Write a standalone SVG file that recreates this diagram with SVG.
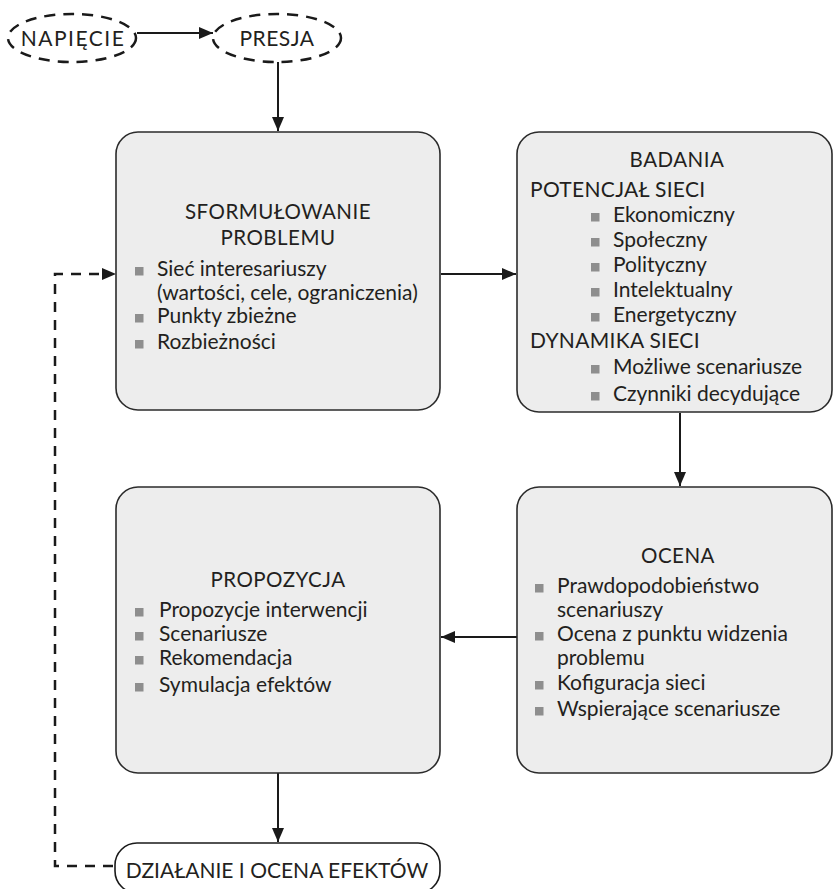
<svg xmlns="http://www.w3.org/2000/svg" width="833" height="889" viewBox="0 0 833 889">
<defs>
<style>
.box{fill:#ededed;stroke:#2b2b2b;stroke-width:1.6}
.t{font-family:Lato,"Open Sans","Liberation Sans",sans-serif;font-size:21px;fill:#231f20}
.h{font-family:Lato,"Open Sans","Liberation Sans",sans-serif;font-size:20.5px;fill:#231f20;text-anchor:middle;letter-spacing:0.5px}
.b{fill:#8e8e8e}
.ln{stroke:#1a1a1a;stroke-width:2;fill:none}
.dl{stroke:#1a1a1a;stroke-width:2.5;fill:none;stroke-dasharray:10 8}
.de{stroke:#1a1a1a;stroke-width:2.5;fill:#fff;stroke-dasharray:11 8}
</style>
<marker id="ah" viewBox="0 0 14 12" refX="14" refY="6" markerWidth="14" markerHeight="12" markerUnits="userSpaceOnUse" orient="auto">
<path d="M0,0 L14,6 L0,12 Z" fill="#1a1a1a"/>
</marker>
</defs>
<rect width="833" height="889" fill="#fff"/>

<g id="connectors">
<line class="ln" x1="137" y1="33" x2="213" y2="33" marker-end="url(#ah)"/>
<line class="ln" x1="278" y1="62" x2="278" y2="131" marker-end="url(#ah)"/>
<line class="ln" x1="441" y1="274" x2="516" y2="274" marker-end="url(#ah)"/>
<line class="ln" x1="680" y1="413" x2="680" y2="486" marker-end="url(#ah)"/>
<line class="ln" x1="517" y1="637" x2="441" y2="637" marker-end="url(#ah)"/>
<line class="ln" x1="278" y1="773" x2="278" y2="842" marker-end="url(#ah)"/>
<polyline class="dl" points="113,866 55,866 55,274 102,274"/>
<path d="M102,268 L116,274 L102,280 Z" fill="#1a1a1a"/>
</g>

<g id="napiecie">
<ellipse class="de" cx="72" cy="38" rx="64" ry="24"/>
<text class="t" x="73" y="46" text-anchor="middle" letter-spacing="1.5">NAPIĘCIE</text>
</g>

<g id="presja">
<ellipse class="de" cx="277" cy="38" rx="64" ry="24"/>
<text class="t" x="277" y="46" text-anchor="middle" letter-spacing="0.5">PRESJA</text>
</g>

<g id="sformulowanie">
<rect class="box" x="116" y="132" width="324" height="278" rx="22"/>
<text class="h" x="278" y="219">SFORMUŁOWANIE</text>
<text class="h" x="278" y="245">PROBLEMU</text>
<rect class="b" x="135" y="267" width="8.5" height="8.5"/>
<text class="t" x="157" y="276">Sieć interesariuszy</text>
<text class="t" x="157" y="300">(wartości, cele, ograniczenia)</text>
<rect class="b" x="135" y="314" width="8.5" height="8.5"/>
<text class="t" x="157" y="323">Punkty zbieżne</text>
<rect class="b" x="135" y="340" width="8.5" height="8.5"/>
<text class="t" x="157" y="349">Rozbieżności</text>
</g>

<g id="badania">
<rect class="box" x="517" y="132" width="315" height="280" rx="22"/>
<text class="h" x="677" y="167">BADANIA</text>
<text class="t" x="530" y="197" letter-spacing="0.3">POTENCJAŁ SIECI</text>
<rect class="b" x="591" y="213" width="8.5" height="8.5"/>
<text class="t" x="613" y="222">Ekonomiczny</text>
<rect class="b" x="591" y="238" width="8.5" height="8.5"/>
<text class="t" x="613" y="247">Społeczny</text>
<rect class="b" x="591" y="263" width="8.5" height="8.5"/>
<text class="t" x="613" y="272">Polityczny</text>
<rect class="b" x="591" y="288" width="8.5" height="8.5"/>
<text class="t" x="613" y="297">Intelektualny</text>
<rect class="b" x="591" y="313" width="8.5" height="8.5"/>
<text class="t" x="613" y="322">Energetyczny</text>
<text class="t" x="530" y="348" letter-spacing="0.3">DYNAMIKA SIECI</text>
<rect class="b" x="591" y="365" width="8.5" height="8.5"/>
<text class="t" x="613" y="374">Możliwe scenariusze</text>
<rect class="b" x="591" y="392" width="8.5" height="8.5"/>
<text class="t" x="613" y="401">Czynniki decydujące</text>
</g>

<g id="ocena">
<rect class="box" x="517" y="487" width="315" height="286" rx="22"/>
<text class="h" x="678" y="563">OCENA</text>
<rect class="b" x="535" y="584" width="8.5" height="8.5"/>
<text class="t" x="557" y="593">Prawdopodobieństwo</text>
<text class="t" x="557" y="617">scenariuszy</text>
<rect class="b" x="535" y="632" width="8.5" height="8.5"/>
<text class="t" x="557" y="641">Ocena z punktu widzenia</text>
<text class="t" x="557" y="665">problemu</text>
<rect class="b" x="535" y="681" width="8.5" height="8.5"/>
<text class="t" x="557" y="690">Kofiguracja sieci</text>
<rect class="b" x="535" y="707" width="8.5" height="8.5"/>
<text class="t" x="557" y="716">Wspierające scenariusze</text>
</g>

<g id="propozycja">
<rect class="box" x="116" y="487" width="324" height="286" rx="22"/>
<text class="h" x="278" y="587">PROPOZYCJA</text>
<rect class="b" x="135" y="608" width="8.5" height="8.5"/>
<text class="t" x="159" y="617">Propozycje interwencji</text>
<rect class="b" x="135" y="632" width="8.5" height="8.5"/>
<text class="t" x="159" y="641">Scenariusze</text>
<rect class="b" x="135" y="656" width="8.5" height="8.5"/>
<text class="t" x="159" y="665">Rekomendacja</text>
<rect class="b" x="135" y="683" width="8.5" height="8.5"/>
<text class="t" x="159" y="692">Symulacja efektów</text>
</g>

<g id="dzialanie">
<rect x="115" y="843" width="325" height="50" rx="22" fill="#fff" stroke="#1a1a1a" stroke-width="1.6"/>
<text class="t" x="277" y="878" text-anchor="middle" font-size="23">DZIAŁANIE I OCENA EFEKTÓW</text>
</g>
</svg>
